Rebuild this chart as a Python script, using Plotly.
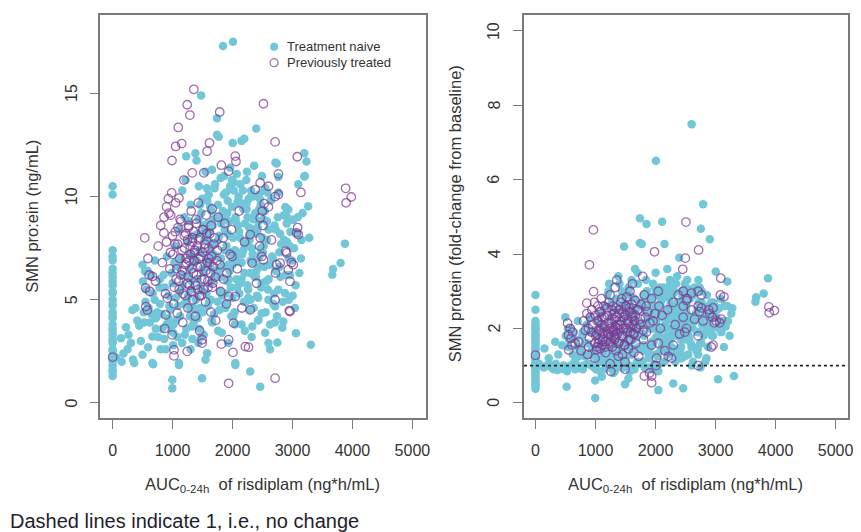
import plotly.graph_objects as go

# ---------------- data ----------------
# Treatment naive: AUC0-24h, SMN protein (ng/mL), SMN fold-change from baseline
naive_auc = [
    0, 0, 0, 0, 0, 0, 0, 0, 0, 0, 0, 0, 0, 0, 0, 0, 0, 0, 0, 0, 0, 0, 0, 0, 0, 0, 0, 0, 0, 0, 0, 0, 0, 0,
    60, 139, 150, 222, 249, 305, 330, 360, 380, 443, 498, 498, 520, 540, 560, 600, 637, 663, 663, 675,
    700, 720, 760, 780, 800, 820, 850, 885, 900, 930,
    960, 980, 995, 995, 1000, 1010, 1030, 1050, 1060, 1080, 1100, 1106, 1106, 1120, 1140, 1161, 1170, 1190,
    1200, 1217, 1227, 1230, 1250, 1260, 1270, 1280, 1290, 1300, 1300, 1310, 1320, 1330, 1340, 1350, 1360,
    1380, 1400, 1400, 1405, 1420, 1440, 1438, 1450, 1460, 1476, 1480, 1493, 1500, 1510, 1520, 1530, 1549,
    1549, 1560, 1576, 1580, 1590, 1600, 1603, 1610, 1620, 1630, 1640, 1650, 1658, 1660, 1670, 1680, 1690,
    1700, 1700, 1460, 1520, 1560, 1600, 1640, 1680, 1420, 1500, 1580,
    1720, 1741, 1741, 1758, 1770, 1780, 1790, 1800, 1810, 1820, 1830, 1841, 1850, 1860, 1870, 1880, 1890,
    1900, 1910, 1920, 1930, 1940, 1950, 1960, 1970, 1980, 1990, 2000, 2002, 2007, 2010, 2020, 2030, 2040,
    2046, 2046, 2050, 2060, 2070, 2080, 2090, 2100, 1760, 1800, 1840, 1880, 1920, 1960, 2000, 2040, 2080,
    1780, 1860, 1940, 2020,
    2110, 2120, 2130, 2150, 2160, 2180, 2196, 2200, 2210, 2220, 2240, 2250, 2260, 2270, 2280, 2295, 2300,
    2310, 2320, 2330, 2340, 2350, 2360, 2380, 2395, 2400, 2410, 2420, 2433, 2440, 2450, 2461, 2470, 2480,
    2488, 2490, 2500, 2150, 2200, 2250, 2300, 2350, 2400, 2450, 2130, 2230, 2330, 2430, 2280, 2180,
    2520, 2540, 2560, 2580, 2598, 2599, 2601, 2620, 2640, 2660, 2680, 2700, 2709, 2715, 2720, 2736, 2748,
    2755, 2764, 2765, 2780, 2793, 2800, 2830, 2847, 2860, 2875, 2880, 2902, 2904, 2930, 2935, 2952, 2960, 2980,
    3003, 3013, 3041, 3058, 3068, 3096, 3140, 3169, 3196, 3196, 3207, 3234, 3262, 3279, 3306, 3664, 3677,
    3802, 3874,
    1415, 1432, 1458, 1467, 1495, 1512, 1528, 1556, 1571, 1588, 1612, 1627, 1655, 1668, 1693, 1708, 1735,
    1752, 1766, 1795, 1808, 1826, 1857, 1873, 1888, 1912, 1927, 1955, 1972, 1988, 2013, 2034, 2052, 2068,
    2093, 2114, 2128, 2153, 2171, 2187, 2212, 2236, 2248, 2274, 2293, 2306, 2335, 2352, 2368, 2391, 2414,
    2428, 2455, 2472, 2486, 2515, 2533, 2547, 2576, 2588,
    180, 265, 340, 410, 470, 525, 590, 650, 720, 790, 860, 930, 1010, 1090, 1160, 1240, 1320, 1390, 1470,
    1560, 1650, 1760, 1880, 2010, 2150,
    2205, 2238, 2262, 2284, 2318, 2344, 2372, 2398, 2426, 2447, 2478, 2505, 2527, 2552, 2574, 2603, 2626,
    2648, 2672, 2694, 2718, 2742, 2768, 2786, 2812, 2838, 2856, 2884, 2912, 2938, 2965, 2992, 3025, 3052,
    3088, 3115, 3150, 2545, 2625, 2705,
    505, 548, 583, 622, 668, 705, 744, 788, 826, 868, 905, 944, 982, 1015, 1052, 1088, 1124, 1166, 1203,
    1245, 1285, 1318, 1352, 1388, 1430,
]
naive_smn = [
    1.3, 1.5, 1.6, 1.8, 2.0, 2.1, 2.3, 2.5, 2.6, 2.9, 3.0, 3.1, 3.3, 3.5, 3.6, 3.8, 4.1, 4.2, 4.4, 4.7,
    4.8, 5.0, 5.3, 5.4, 5.7, 5.9, 6.1, 6.3, 6.5, 6.9, 7.1, 7.4, 10.1, 10.5,
    2.2, 3.14, 2.0, 3.67, 2.6, 2.9, 4.5, 1.93, 4.6, 3.74, 2.33, 6.7, 4.4, 6.37, 5.5, 4.6, 6.2, 3.22, 1.93, 1.88,
    5.0, 4.1, 3.2, 5.6, 2.6, 4.3, 6.2, 2.6, 3.8, 5.2,
    4.5, 3.5, 1.12, 0.71, 5.8, 2.8, 6.8, 7.6, 4.0, 3.2, 8.4, 1.84, 1.93, 5.4, 7.0, 10.3, 6.2, 4.8,
    9.0, 10.8, 11.96, 3.6, 7.8, 5.2, 8.8, 6.5, 4.2, 2.6, 9.6, 7.2, 5.9, 3.1, 8.1, 6.8, 4.6,
    12.1, 11.75, 6.9, 5.1, 8.2, 3.6, 10.5, 7.4, 5.6, 14.9, 9.2, 1.2, 4.4, 8.6, 6.3, 7.9, 11.2,
    2.09, 5.3, 2.41, 9.8, 6.6, 7.1, 10.1, 4.9, 8.3, 5.8, 7.5, 9.3, 11.3, 3.9, 6.0, 8.9, 4.3,
    7.7, 10.4, 9.6, 3.3, 8.0, 6.8, 5.0, 7.2, 4.1, 6.5, 8.7,
    6.2, 13.8, 13.0, 9.6, 12.9, 8.1, 5.4, 10.9, 7.0, 3.4, 9.1, 17.3, 6.6, 11.0, 8.4, 4.7, 10.2,
    7.6, 5.9, 9.8, 2.9, 8.8, 6.4, 11.4, 7.3, 4.2, 9.5, 5.1, 12.6, 17.5, 8.0, 10.7, 6.8, 3.8,
    1.84, 1.93, 9.0, 7.1, 11.1, 5.6, 8.6, 10.0, 7.9, 6.1, 9.3, 5.3, 8.2, 10.5, 6.7, 7.4, 9.7,
    4.5, 8.9, 6.0, 10.3,
    8.3, 5.8, 10.6, 12.7, 7.2, 9.4, 12.8, 6.3, 8.7, 4.9, 11.2, 7.8, 5.5, 9.9, 8.1, 1.52, 6.9,
    10.3, 7.5, 3.7, 8.9, 6.2, 11.5, 9.2, 13.3, 7.0, 5.2, 8.5, 4.03, 10.1, 6.6, 0.79, 9.6, 7.3,
    4.35, 11.0, 8.0, 6.0, 7.7, 9.0, 5.0, 8.4, 6.4, 7.1, 9.7, 10.8, 6.8, 8.8, 4.5, 7.4,
    7.6, 9.3, 5.9, 10.2, 5.0, 2.9, 8.4, 6.7, 9.8, 7.1, 4.8, 8.6, 4.68, 11.65, 6.4, 11.6, 2.93,
    9.0, 5.48, 10.95, 7.3, 8.2, 6.1, 3.65, 3.95, 7.9, 5.33, 9.5, 9.04, 8.7, 9.37, 7.0, 7.6, 6.2, 8.88,
    5.2, 8.88, 4.6, 3.38, 8.24, 10.6, 7.0, 9.2, 12.1, 10.97, 11.0, 11.7, 9.53, 8.0, 2.82, 6.21, 6.49,
    6.78, 7.72,
    6.0, 8.9, 4.6, 7.3, 9.9, 5.4, 8.3, 6.9, 10.4, 4.7, 7.8, 9.5, 5.9, 8.6, 6.4, 10.6, 7.1,
    4.9, 9.0, 6.5, 8.7, 5.2, 10.1, 7.4, 4.8, 9.2, 6.7, 8.1, 5.6, 10.8, 7.0, 4.4, 8.8, 6.0,
    9.8, 5.3, 8.0, 6.8, 10.3, 4.9, 7.6, 9.4, 5.7, 8.5, 6.3, 10.0, 7.2, 4.6, 9.1, 6.1, 8.3,
    5.1, 9.9, 7.5, 5.8, 8.9, 6.6, 10.4, 7.9, 5.5,
    2.4, 3.3, 2.1, 4.0, 3.0, 3.9, 2.7, 4.3, 3.6, 4.8, 3.1, 4.1, 3.4, 4.7, 2.9, 5.0, 3.7, 4.5, 3.2,
    5.3, 4.0, 3.5, 4.6, 4.2, 3.8,
    3.5, 9.7, 5.1, 7.9, 3.2, 10.0, 6.1, 8.2, 4.0, 9.4, 5.6, 7.3, 10.3, 4.4, 8.8, 6.0, 3.8,
    9.9, 7.0, 5.3, 8.4, 4.2, 10.2, 6.6, 7.7, 4.9, 9.1, 6.2, 7.8, 5.0, 8.3, 6.9, 7.5, 5.7,
    9.0, 6.3, 7.9, 3.4, 2.6, 3.9,
    5.9, 4.9, 6.4, 3.9, 5.3, 6.9, 4.4, 6.0, 3.6, 5.6, 7.1, 4.7, 6.3, 3.8, 5.1, 6.6, 4.2, 5.7, 3.3,
    6.1, 4.6, 5.5, 3.9, 5.0, 2.9,
]
naive_fc = [
    0.38, 0.45, 0.5, 0.58, 0.62, 0.7, 0.74, 0.8, 0.86, 0.9, 0.95, 1.0, 1.03, 1.08, 1.12, 1.2, 1.25, 1.32, 1.4, 1.45,
    1.52, 1.6, 1.66, 1.72, 1.8, 1.86, 1.95, 2.0, 2.1, 2.2, 2.05, 2.5, 2.9, 0.98,
    1.05, 0.95, 1.46, 1.2, 1.0, 0.9, 1.64, 0.88, 1.3, 1.55, 0.9, 2.3, 0.43, 2.0, 1.7, 1.0, 1.9, 1.1, 0.9, 1.0,
    1.5, 1.25, 0.92, 1.8, 1.0, 1.6, 2.1, 1.05, 1.3, 1.9,
    1.0, 0.95, 0.13, 0.6, 1.4, 0.9, 1.8, 2.2, 1.1, 0.85, 2.4, 0.7, 1.6, 1.2, 2.0, 2.6, 1.5, 1.0,
    2.9, 3.0, 3.2, 0.95, 2.3, 1.3, 2.7, 1.7, 1.05, 0.8, 2.5, 2.1, 1.6, 0.9, 1.9, 2.8, 1.2,
    3.4, 3.2, 1.9, 1.4, 2.5, 0.95, 3.0, 2.2, 1.6, 4.2, 2.7, 0.5, 1.2, 2.6, 1.8, 2.3, 3.1,
    0.65, 1.5, 0.85, 2.9, 1.9, 2.0, 3.3, 1.3, 2.4, 1.7, 2.1, 2.8, 3.6, 1.0, 1.75, 2.55, 1.1,
    2.2, 3.5, 2.9, 0.98, 2.35, 2.0, 1.45, 2.15, 1.15, 1.85, 2.6,
    1.5, 4.96, 4.3, 2.6, 4.27, 2.1, 1.4, 2.9, 1.8, 0.95, 2.5, 3.3, 4.81, 3.0, 2.3, 1.2, 2.8,
    2.0, 1.5, 2.7, 0.9, 2.4, 1.65, 3.2, 2.0, 1.05, 2.6, 1.3, 3.5, 6.51, 2.2, 3.0, 1.8, 1.0,
    0.34, 0.85, 2.45, 1.9, 3.1, 1.4, 2.3, 2.75, 2.15, 1.55, 2.55, 1.35, 2.25, 2.85, 1.75, 2.0, 2.65,
    1.1, 2.4, 1.6, 2.9,
    4.87, 1.7, 3.1, 4.27, 2.1, 2.9, 3.6, 1.8, 2.5, 1.3, 3.3, 2.3, 1.5, 2.9, 2.4, 0.52, 2.0,
    3.0, 2.2, 1.1, 2.6, 1.8, 3.4, 2.7, 3.9, 2.1, 1.4, 2.5, 1.2, 3.0, 1.9, 0.39, 2.8, 2.1,
    1.25, 3.2, 2.35, 1.75, 2.25, 2.65, 1.45, 2.45, 1.85, 2.05, 2.85, 3.15, 2.0, 2.55, 1.35, 2.2,
    2.4, 2.8, 1.7, 3.0, 1.5, 1.0, 7.49, 2.0, 2.9, 2.2, 1.4, 2.5, 1.3, 3.3, 1.9, 3.1, 0.95,
    4.68, 1.6, 2.7, 2.1, 5.34, 1.8, 1.1, 1.2, 2.3, 1.5, 2.6, 2.5, 4.4, 2.7, 2.0, 2.3, 1.8, 2.6,
    3.53, 2.3, 0.63, 2.54, 2.1, 1.9, 1.5, 2.05, 3.26, 2.6, 2.2, 1.8, 2.4, 2.54, 0.72, 2.72, 2.84,
    2.94, 3.35,
    1.9, 2.6, 1.4, 2.2, 2.9, 1.6, 2.4, 2.0, 3.1, 1.3, 2.3, 2.8, 1.75, 2.5, 1.95, 3.2, 2.1,
    1.45, 2.7, 1.85, 2.55, 1.5, 3.0, 2.2, 1.35, 2.75, 2.0, 2.4, 1.65, 3.1, 2.1, 1.25, 2.6, 1.8,
    2.9, 1.55, 2.35, 2.0, 3.0, 1.4, 2.25, 2.8, 1.7, 2.5, 1.9, 2.95, 2.15, 1.3, 2.7, 1.8, 2.45,
    1.5, 2.85, 2.2, 1.7, 2.6, 1.95, 3.05, 2.3, 1.6,
    1.0, 0.95, 1.05, 0.9, 1.0, 0.85, 1.0, 1.1, 0.95, 0.9, 1.05, 1.0, 0.95, 1.1, 0.9, 1.0, 0.85, 1.05, 0.95,
    1.0, 0.9, 1.05, 0.95, 1.0, 1.1,
    1.6, 3.0, 2.0, 2.6, 1.4, 3.2, 2.3, 2.7, 1.7, 2.9, 2.1, 2.5, 3.3, 1.8, 2.8, 2.2, 1.5,
    3.1, 2.4, 1.9, 2.7, 1.6, 3.0, 2.3, 2.5, 1.9, 2.9, 2.1, 2.6, 1.8, 2.7, 2.3, 2.5, 2.0,
    2.8, 2.2, 2.6, 1.3, 1.1, 1.45,
    1.8, 1.5, 2.0, 1.3, 1.7, 2.2, 1.4, 1.9, 1.25, 1.6, 2.3, 1.45, 1.95, 1.2, 1.55, 2.1, 1.35, 1.75, 1.15,
    1.85, 1.4, 1.65, 1.3, 1.5, 1.1,
]

# Previously treated
prev_auc = [
    0, 535, 550, 554, 579, 590, 609, 620, 663, 717,
    760, 802, 830, 855, 857, 870, 882, 885, 899, 900,
    912, 929, 940, 954, 965, 968, 985, 990, 992, 1000,
    1020, 1023, 1023, 1040, 1051, 1051, 1060, 1078, 1090, 1095,
    1106, 1110, 1120, 1140, 1151, 1160, 1170, 1189, 1200, 1210,
    1220, 1230, 1244, 1244, 1250, 1256, 1260, 1270, 1280, 1289,
    1300, 1310, 1320, 1327, 1330, 1340, 1350, 1355, 1360, 1370,
    1380, 1390, 1400, 1410, 1420, 1430, 1440, 1450, 1460, 1470,
    1480, 1493, 1493, 1500, 1510, 1521, 1530, 1540, 1550, 1560,
    1575, 1580, 1590, 1600, 1615, 1620, 1630, 1640, 1650, 1660,
    1670, 1680, 1700, 1720, 1740, 1760, 1786, 1800, 1814, 1814,
    1830, 1850, 1870, 1900, 1935, 1935, 1935, 1935, 1960, 1983,
    2007, 2018, 2046, 2046, 2057, 2080, 2110, 2156, 2200, 2212,
    2267, 2295, 2295, 2327, 2378, 2400, 2453, 2461, 2461, 2461,
    2488, 2496, 2507, 2516, 2516, 2527, 2599, 2599, 2650, 2709,
    2710, 2710, 2710, 2717, 2736, 2765, 2765, 2793, 2886, 2902,
    2930, 2947, 2958, 2958, 2980, 3013, 3068, 3080, 3086, 3096,
    3140, 3887, 3895, 3980,
    1005, 1028, 1046, 1068, 1085, 1102, 1125, 1138, 1157, 1176,
    1195, 1213, 1226, 1247, 1263, 1278, 1296, 1314, 1333, 1347,
    1365, 1384, 1397, 1415, 1436, 1448, 1466, 1485, 1502, 1518,
    1537, 1555, 1568, 1586, 1604, 1622, 1645, 1663, 1686, 1712,
    1748, 1792, 1845, 1905, 1990,
]
prev_smn = [
    2.22, 8.0, 5.57, 4.67, 4.5, 7.0, 6.2, 5.4, 6.13, 5.9,
    7.6, 8.6, 6.8, 8.24, 9.0, 3.6, 5.3, 4.27, 7.8, 9.5,
    5.08, 9.9, 9.2, 6.5, 7.3, 9.1, 10.18, 11.75, 3.3, 8.1,
    4.8, 2.57, 2.28, 7.7, 12.43, 9.7, 6.0, 4.35, 8.5, 13.35,
    9.93, 5.5, 7.0, 8.8, 12.57, 6.4, 3.9, 10.8, 7.5, 5.2,
    8.2, 6.8, 14.45, 2.5, 7.9, 4.6, 6.1, 8.6, 5.7, 13.95,
    7.2, 9.3, 6.5, 11.15, 7.8, 5.0, 8.3, 15.2, 6.9, 7.4,
    4.2, 8.9, 6.2, 7.6, 5.5, 9.7, 7.0, 3.5, 8.0, 6.6,
    5.2, 3.06, 2.9, 7.3, 8.4, 11.15, 6.0, 7.7, 4.9, 9.1,
    12.2, 6.8, 5.6, 7.5, 12.6, 8.2, 6.3, 4.4, 7.1, 9.4,
    5.8, 6.6, 8.0, 4.0, 6.9, 9.0, 14.1, 5.4, 11.52, 2.85,
    7.6, 6.0, 8.7, 4.8, 11.23, 3.07, 5.16, 0.95, 7.2, 8.4,
    2.45, 3.87, 11.96, 5.16, 11.7, 6.5, 9.3, 4.6, 7.8, 2.73,
    2.7, 8.16, 4.51, 6.78, 10.34, 5.8, 7.6, 10.66, 8.97, 8.0,
    7.1, 9.3, 8.6, 14.5, 6.94, 9.66, 10.5, 9.5, 7.9, 5.0,
    12.65, 10.0, 1.2, 6.3, 6.7, 10.1, 11.1, 6.78, 7.35, 7.27,
    6.46, 4.47, 5.89, 4.43, 6.8, 6.7, 8.24, 11.93, 8.5, 8.16,
    10.2, 10.4, 9.7, 9.98,
    7.2, 5.6, 8.3, 6.5, 7.7, 5.9, 8.9, 6.2, 7.4, 5.3,
    8.1, 6.7, 7.0, 5.8, 8.5, 6.9, 7.6, 5.4, 8.0, 6.3,
    7.3, 5.7, 8.7, 6.6, 7.9, 5.2, 7.1, 6.0, 8.4, 5.5,
    7.5, 6.4, 8.2, 5.9, 7.0, 6.8, 8.6, 5.6, 7.7, 6.1,
    7.4, 6.7, 8.0, 6.3, 7.1,
]
prev_fc = [
    1.28, 2.14, 1.83, 1.42, 2.0, 1.73, 1.55, 1.9, 1.6, 1.64,
    1.4, 2.2, 1.95, 2.68, 2.4, 1.3, 2.0, 1.5, 3.71, 1.75,
    2.3, 1.9, 2.5, 2.1, 4.65, 2.99, 2.7, 1.6, 1.2, 2.35,
    1.42, 1.85, 1.5, 2.6, 2.2, 1.95, 1.7, 1.45, 2.45, 2.8,
    2.1, 1.55, 1.85, 2.0, 2.3, 1.65, 1.35, 2.55, 1.9, 1.75,
    2.15, 1.6, 2.9, 1.05, 2.0, 0.84, 1.8, 2.25, 1.5, 2.6,
    1.95, 2.4, 1.7, 3.1, 2.05, 1.4, 2.3, 3.3, 1.85, 2.1,
    1.25, 2.5, 1.65, 1.95, 2.7, 2.2, 1.8, 1.3, 2.45, 2.0,
    1.55, 1.1, 0.9, 2.35, 2.6, 2.85, 1.9, 2.15, 1.45, 2.55,
    3.0, 2.05, 1.7, 2.3, 3.2, 2.4, 1.85, 1.35, 2.2, 2.75,
    1.6, 2.0, 2.5, 1.25, 2.1, 2.65, 3.4, 1.7, 2.9, 0.72,
    2.3, 1.9, 2.45, 0.8, 2.8, 0.54, 1.55, 0.72, 2.2, 4.06,
    1.0, 1.2, 3.0, 1.6, 2.6, 2.0, 2.35, 1.4, 2.5, 1.25,
    1.2, 2.7, 1.55, 2.1, 2.9, 1.85, 3.59, 3.0, 2.6, 2.3,
    1.9, 3.89, 4.86, 2.75, 2.0, 2.8, 2.95, 2.5, 2.25, 1.8,
    3.0, 2.6, 1.0, 4.11, 2.45, 2.55, 2.9, 2.2, 2.5, 2.4,
    1.5, 2.3, 2.55, 1.55, 2.15, 2.2, 2.15, 2.9, 3.35, 2.25,
    2.85, 2.58, 2.42, 2.48,
    1.8, 2.2, 1.6, 2.45, 1.95, 2.3, 1.7, 2.6, 2.05, 1.5,
    2.35, 1.85, 2.7, 1.65, 2.15, 2.5, 1.9, 2.25, 1.75, 2.55,
    2.0, 1.6, 2.4, 2.1, 2.8, 1.8, 2.3, 1.55, 2.6, 2.0,
    2.2, 1.7, 2.45, 1.9, 2.65, 2.1, 1.85, 2.35, 2.0, 2.5,
    2.25, 1.95, 2.6, 2.15, 2.4,
]

x_ticks = [0, 1000, 2000, 3000, 4000, 5000]
left_y_ticks = [0, 5, 10, 15]
right_y_ticks = [0, 2, 4, 6, 8, 10]
no_change_level = 1
legend_labels = ["Treatment naive", "Previously treated"]

# ---------------- styling ----------------
W, H = 861, 532
CYAN = "#71C7D8"
PURPLE = "rgba(125,55,145,0.72)"
FONT = "Liberation Sans, Arial, sans-serif"
TXT = "#333333"
BOX = "#7a7a7a"
MSIZE = 8.5


def px_x(p):
    return p / W


def px_y(p):
    return 1 - p / H


fig = go.Figure()
for xa, ya, ny, py in (("x", "y", naive_smn, prev_smn), ("x2", "y2", naive_fc, prev_fc)):
    fig.add_trace(go.Scatter(x=naive_auc, y=ny, mode="markers", name=legend_labels[0],
                             marker=dict(color=CYAN, size=MSIZE, line=dict(width=0)),
                             xaxis=xa, yaxis=ya, showlegend=False))
    fig.add_trace(go.Scatter(x=prev_auc, y=py, mode="markers", name=legend_labels[1],
                             marker=dict(symbol="circle-open", color=PURPLE, size=MSIZE,
                                         line=dict(width=1.3)),
                             xaxis=xa, yaxis=ya, showlegend=False))

common_x = dict(showgrid=False, zeroline=False, showline=True, mirror=True, linecolor=BOX,
                linewidth=1.5, ticks="outside", ticklen=9, tickcolor=BOX, tickwidth=1.2,
                tickvals=x_ticks, ticklabelstandoff=8,
                tickfont=dict(family=FONT, size=16, color=TXT))
common_y = dict(showgrid=False, zeroline=False, showline=True, mirror=True, linecolor=BOX,
                linewidth=1.5, ticks="outside", ticklen=9, tickcolor=BOX, tickwidth=1.2,
                showticklabels=False)

fig.update_layout(
    width=W, height=H, margin=dict(l=0, r=0, t=0, b=0),
    paper_bgcolor="white", plot_bgcolor="white",
    font=dict(family=FONT, color=TXT),
    xaxis=dict(domain=[px_x(101), px_x(428)], range=[-204, 5219], anchor="y", **common_x),
    yaxis=dict(domain=[px_y(418), px_y(15)], range=[-0.73, 18.8], anchor="x",
               tickvals=left_y_ticks, **common_y),
    xaxis2=dict(domain=[px_x(527), px_x(853)], range=[-192, 5207], anchor="y2", **common_x),
    yaxis2=dict(domain=[px_y(418), px_y(15)], range=[-0.41, 10.43], anchor="x2",
                tickvals=right_y_ticks, **common_y),
    showlegend=False,
)

# rotated y tick labels (R style), placed on the axis scale
tick_font = dict(family=FONT, size=16, color=TXT)
for v in left_y_ticks:
    fig.add_annotation(text=str(v), x=px_x(72), xref="paper", y=v, yref="y", showarrow=False,
                       textangle=-90, font=tick_font, xanchor="center", yanchor="middle")
for v in right_y_ticks:
    fig.add_annotation(text=str(v), x=px_x(497), xref="paper", y=v, yref="y2", showarrow=False,
                       textangle=-90, font=tick_font, xanchor="center", yanchor="middle")

# dashed reference line at 1 (no change)
fig.add_shape(type="line", xref="x2 domain", yref="y2", x0=0, x1=1,
              y0=no_change_level, y1=no_change_level,
              line=dict(color="#222222", width=1.6, dash="3px,3px"))

# legend (inside left panel, top right)
r = 4
fig.add_shape(type="circle", xref="paper", yref="paper",
              x0=px_x(275.7 - r), x1=px_x(275.7 + r), y0=px_y(46.7 + r), y1=px_y(46.7 - r),
              fillcolor=CYAN, line=dict(width=0))
fig.add_shape(type="circle", xref="paper", yref="paper",
              x0=px_x(275.7 - r), x1=px_x(275.7 + r), y0=px_y(62.7 + r), y1=px_y(62.7 - r),
              fillcolor="rgba(0,0,0,0)", line=dict(color=PURPLE, width=1.3))
for lab, yy in zip(legend_labels, (46.7, 62.7)):
    fig.add_annotation(text=lab, x=px_x(287), y=px_y(yy), xref="paper", yref="paper",
                       showarrow=False, xanchor="left", yanchor="middle",
                       font=dict(family=FONT, size=13, color=TXT))

title_font = dict(family=FONT, size=16.5, color=TXT)
xtitle = "AUC<sub>0-24h</sub>  of risdiplam (ng*h/mL)"
fig.add_annotation(text=xtitle, x=px_x(264), y=px_y(485), xref="paper", yref="paper",
                   showarrow=False, font=title_font, xanchor="center", yanchor="middle")
fig.add_annotation(text=xtitle, x=px_x(690), y=px_y(485), xref="paper", yref="paper",
                   showarrow=False, font=title_font, xanchor="center", yanchor="middle")
fig.add_annotation(text="SMN pro:ein (ng/mL)", x=px_x(32), y=px_y(216), xref="paper", yref="paper",
                   showarrow=False, font=title_font, textangle=-90, xanchor="center", yanchor="middle")
fig.add_annotation(text="SMN protein (fold-change from baseline)", x=px_x(458), y=px_y(214),
                   xref="paper", yref="paper", showarrow=False, font=title_font, textangle=-90,
                   xanchor="center", yanchor="middle")
fig.add_annotation(text="Dashed lines indicate 1, i.e., no change", x=px_x(8), y=px_y(521),
                   xref="paper", yref="paper", showarrow=False,
                   font=dict(family=FONT, size=20, color="#1e1e2e"), xanchor="left", yanchor="middle")

fig.write_html("out.html")
